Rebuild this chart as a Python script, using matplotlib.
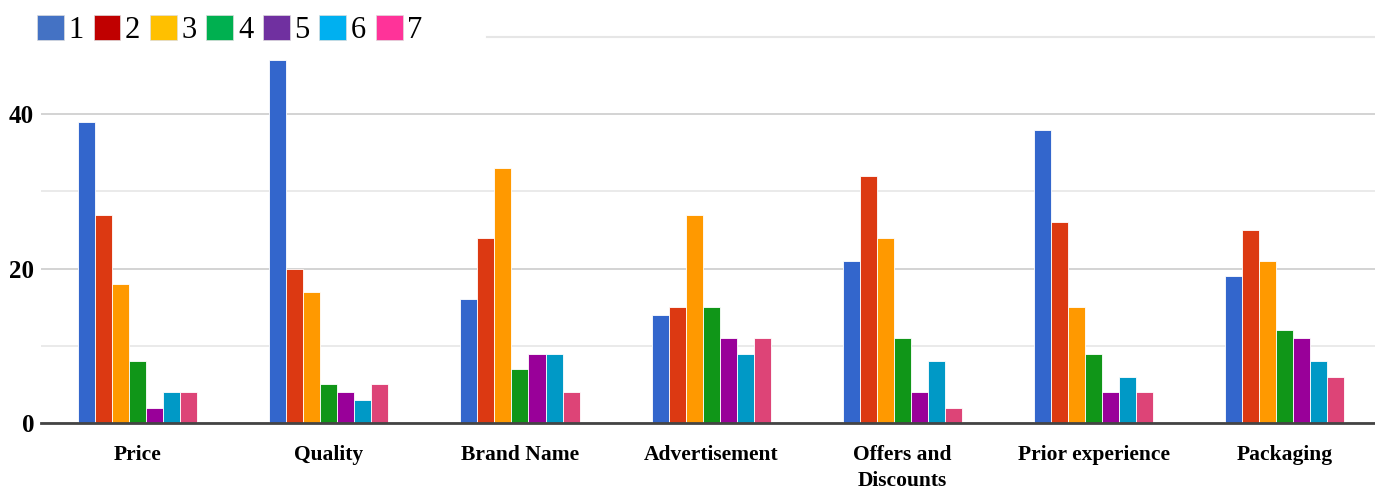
import numpy as np
import matplotlib.pyplot as plt
from matplotlib.patches import Patch

# Datos
categorias = ['Price', 'Quality', 'Brand Name', 'Advertisement',
              'Offers and\nDiscounts', 'Prior experience', 'Packaging']
niveles = ['1', '2', '3', '4', '5', '6', '7']
valores = [
    [39, 47, 16, 14, 21, 38, 19],   # 1
    [27, 20, 24, 15, 32, 26, 25],   # 2
    [18, 17, 33, 27, 24, 15, 21],   # 3
    [8, 5, 7, 15, 11, 9, 12],       # 4
    [2, 4, 9, 11, 4, 4, 11],        # 5
    [4, 3, 9, 9, 8, 6, 8],          # 6
    [4, 5, 4, 11, 2, 4, 6],         # 7
]

colores_barras = ['#3366cc', '#dc3912', '#ff9900', '#109618',
                  '#990099', '#0099c6', '#dd4477']
colores_leyenda = ['#4472c4', '#c00000', '#ffc000', '#00b050',
                   '#7030a0', '#00b0f0', '#ff3399']

plt.rcParams['font.family'] = ['Liberation Serif', 'DejaVu Serif']

W, H = 1375, 493
fig = plt.figure(figsize=(W / 100, H / 100), dpi=100)
ax = fig.add_axes([41 / W, (H - 423) / H, (W - 41) / W, (423 - 37) / H])

x = np.arange(len(categorias))
ancho = 0.089
for k, serie in enumerate(valores):
    ax.bar(x + (k - 3) * ancho, serie, width=ancho, color=colores_barras[k],
           edgecolor='white', linewidth=0.6, zorder=3)

ax.set_xlim(-0.5046, 6.471)
ax.set_ylim(0, 50)
ax.set_yticks([0, 20, 40])
ax.set_yticks([10, 30], minor=True)
ax.set_yticklabels(['0', '20', '40'], fontsize=18, fontweight='bold')
ax.tick_params(axis='y', which='both', length=0, pad=5)
ax.grid(axis='y', which='major', color='#cccccc', linewidth=1.2, zorder=0)
ax.grid(axis='y', which='minor', color='#e6e6e6', linewidth=1.2, zorder=0)
ax.axhline(50, xmin=(487 - 41) / (W - 41), color='#e6e6e6', linewidth=1.5,
           clip_on=False, zorder=0)
ax.axhline(0, color='#444444', linewidth=2, clip_on=False, zorder=4)

ax.set_xticks(x)
ax.set_xticklabels(categorias, fontsize=15.5, fontweight='bold',
                   linespacing=1.4, va='top')
ax.tick_params(axis='x', length=0, pad=16)

for lado in ['top', 'right', 'left', 'bottom']:
    ax.spines[lado].set_visible(False)

handles = [Patch(facecolor=c, edgecolor='#dddddd', linewidth=0.5)
           for c in colores_leyenda]
fig.legend(handles, niveles, loc='upper left',
           bbox_to_anchor=(37 / W, 1 - 15 / H), ncol=7, frameon=False,
           fontsize=22, handlelength=0.88, handleheight=0.88,
           handletextpad=0.15, columnspacing=0.32, borderpad=0,
           borderaxespad=0)

plt.savefig('out.png', dpi=100)
